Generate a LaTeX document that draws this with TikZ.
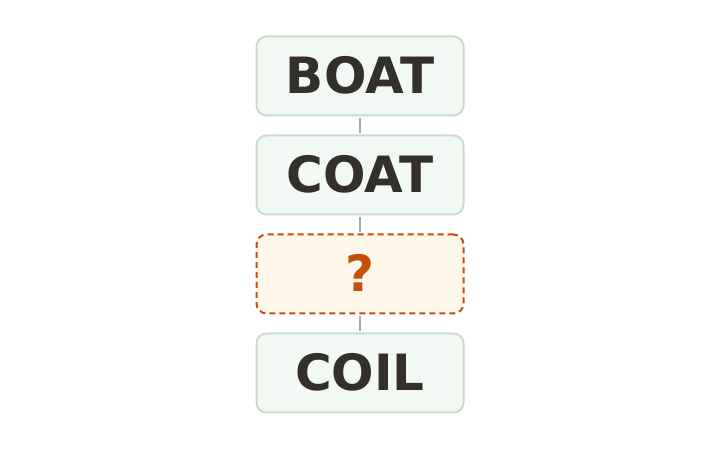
\documentclass[tikz,border=0pt]{standalone}
\usepackage{fontspec}
\setmainfont{DejaVu Sans}
\definecolor{boxfill}{HTML}{F2F8F4}
\definecolor{boxline}{HTML}{C8DDCC}
\definecolor{txt}{HTML}{33302A}
\definecolor{qfill}{HTML}{FFF6EA}
\definecolor{qline}{HTML}{C0500A}
\definecolor{conn}{HTML}{9FAEA6}
\newcommand{\lift}[1]{\raisebox{2.5bp}{#1}}
\begin{document}
\begin{tikzpicture}[x=1bp,y=1bp,
  word/.style={draw=boxline, fill=boxfill, line width=2bp, rounded corners=10bp,
    minimum width=207bp, minimum height=79bp, inner sep=0pt, text=txt,
    font=\fontsize{50bp}{58bp}\selectfont\bfseries},
  missing/.style={word, draw=qline, fill=qfill, text=qline, dashed, dash pattern=on 6bp off 4bp},
  link/.style={draw=conn, line width=2.2bp, shorten <=1.5bp, shorten >=1.5bp}]
\useasboundingbox (0,0) rectangle (720,450);
\node[word] (boat) at (360,374) {\lift{BOAT}};
\node[word] (coat) at (360,275) {\lift{COAT}};
\node[missing] (q) at (360,176) {\lift{?}};
\node[word] (coil) at (360,77) {\lift{COIL}};
\draw[link] (boat.south) -- (coat.north);
\draw[link] (coat.south) -- (q.north);
\draw[link] (q.south) -- (coil.north);
\end{tikzpicture}
\end{document}
